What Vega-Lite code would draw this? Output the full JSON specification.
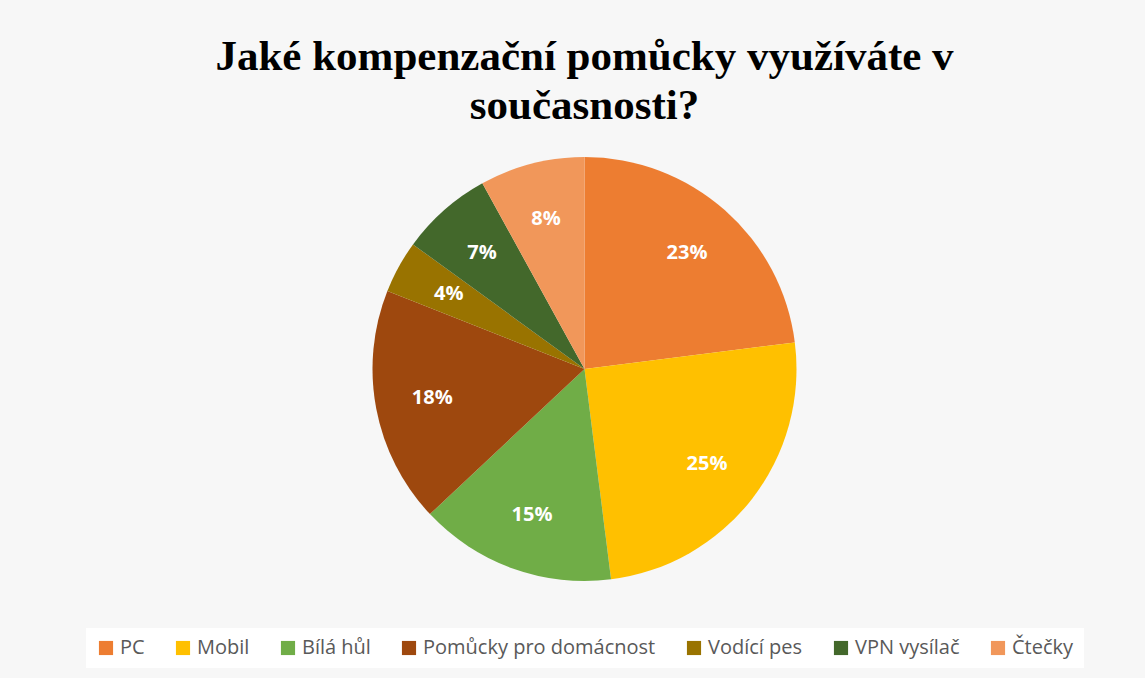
{
  "$schema": "https://vega.github.io/schema/vega-lite/v6.json",
  "width": 1145,
  "height": 678,
  "autosize": {"type": "fit", "contains": "padding"},
  "padding": {"left": 24, "right": 0, "top": 36, "bottom": 10},
  "background": "#f7f7f7",
  "title": {
    "text": ["Jaké kompenzační pomůcky využíváte v", "současnosti?"],
    "font": "Liberation Serif",
    "fontSize": 43,
    "fontWeight": "bold",
    "color": "#000000",
    "anchor": "middle",
    "frame": "group",
    "lineHeight": 49,
    "offset": 22
  },
  "data": {
    "values": [
      {"kategorie": "PC", "podil": 0.23, "poradi": 1},
      {"kategorie": "Mobil", "podil": 0.25, "poradi": 2},
      {"kategorie": "Bílá hůl", "podil": 0.15, "poradi": 3},
      {"kategorie": "Pomůcky pro domácnost", "podil": 0.18, "poradi": 4},
      {"kategorie": "Vodící pes", "podil": 0.04, "poradi": 5},
      {"kategorie": "VPN vysílač", "podil": 0.07, "poradi": 6},
      {"kategorie": "Čtečky", "podil": 0.08, "poradi": 7}
    ]
  },
  "encoding": {
    "theta": {"field": "podil", "type": "quantitative", "stack": true},
    "order": {"field": "poradi", "type": "quantitative"},
    "color": {
      "field": "kategorie",
      "type": "nominal",
      "sort": ["PC", "Mobil", "Bílá hůl", "Pomůcky pro domácnost", "Vodící pes", "VPN vysílač", "Čtečky"],
      "scale": {
        "domain": ["PC", "Mobil", "Bílá hůl", "Pomůcky pro domácnost", "Vodící pes", "VPN vysílač", "Čtečky"],
        "range": ["#ED7D31", "#FFC000", "#70AD47", "#9E480E", "#997300", "#43682B", "#F1975A"]
      },
      "legend": {
        "title": null,
        "orient": "bottom",
        "direction": "horizontal",
        "columns": 7,
        "symbolType": "square",
        "symbolSize": 200,
        "symbolStrokeWidth": 0,
        "labelFont": "Open Sans",
        "labelFontSize": 20,
        "labelLimit": 400,
        "labelColor": "#595959",
        "columnPadding": 28,
        "labelOffset": 4,
        "fillColor": "#ffffff",
        "padding": 10,
        "offset": 40
      }
    }
  },
  "layer": [
    {
      "mark": {"type": "arc", "outerRadius": 212, "stroke": null}
    },
    {
      "mark": {
        "type": "text",
        "radius": 155,
        "font": "Open Sans",
        "fontSize": 20,
        "fontWeight": "bold",
        "fill": "#ffffff"
      },
      "encoding": {
        "text": {"field": "podil", "type": "quantitative", "format": ".0%"},
        "color": {"value": "#ffffff"}
      }
    }
  ],
  "config": {
    "view": {"stroke": null},
    "legend": {"layout": {"bottom": {"anchor": "middle"}}}
  }
}
